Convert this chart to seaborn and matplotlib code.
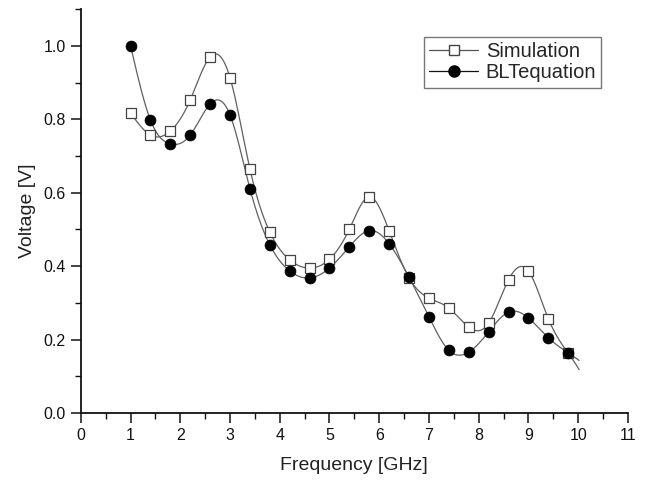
import numpy as np
import pandas as pd
import matplotlib
matplotlib.use("Agg")
import matplotlib.pyplot as plt
from matplotlib.lines import Line2D
from matplotlib.ticker import MultipleLocator
import seaborn as sns

freq = [1.0, 1.4, 1.8, 2.2, 2.6, 3.0, 3.4, 3.8, 4.2, 4.6, 5.0, 5.4,
        5.8, 6.2, 6.6, 7.0, 7.4, 7.8, 8.2, 8.6, 9.0, 9.4, 9.8]
simulation = [0.817, 0.757, 0.768, 0.853, 0.970, 0.913, 0.665, 0.493, 0.417,
              0.395, 0.419, 0.501, 0.589, 0.496, 0.368, 0.313, 0.286, 0.234,
              0.245, 0.363, 0.387, 0.257, 0.163]
blt = [1.000, 0.798, 0.733, 0.757, 0.842, 0.812, 0.611, 0.458, 0.387, 0.368,
       0.395, 0.453, 0.497, 0.461, 0.370, 0.262, 0.171, 0.166, 0.221, 0.275,
       0.259, 0.205, 0.164]
x_ticks = list(range(0, 12))
y_ticks = [0.0, 0.2, 0.4, 0.6, 0.8, 1.0]


def natural_spline(x, y, xs):
    x = np.asarray(x, float)
    y = np.asarray(y, float)
    n = len(x)
    h = np.diff(x)
    A = np.zeros((n, n))
    b = np.zeros(n)
    A[0, 0] = 1
    A[-1, -1] = 1
    for i in range(1, n - 1):
        A[i, i - 1] = h[i - 1]
        A[i, i] = 2 * (h[i - 1] + h[i])
        A[i, i + 1] = h[i]
        b[i] = 6 * ((y[i + 1] - y[i]) / h[i] - (y[i] - y[i - 1]) / h[i - 1])
    M = np.linalg.solve(A, b)
    idx = np.clip(np.searchsorted(x, xs) - 1, 0, n - 2)
    x0, x1 = x[idx], x[idx + 1]
    hh = x1 - x0
    t0 = x1 - xs
    t1 = xs - x0
    return (M[idx] * t0 ** 3 / (6 * hh) + M[idx + 1] * t1 ** 3 / (6 * hh)
            + (y[idx] / hh - M[idx] * hh / 6) * t0
            + (y[idx + 1] / hh - M[idx + 1] * hh / 6) * t1)


sns.set_style("ticks")
plt.rcParams["font.family"] = ["Liberation Sans", "DejaVu Sans"]

fig = plt.figure(figsize=(6.52, 4.82), dpi=100)
ax = fig.add_axes([0.124, 0.143, 0.839, 0.838])

xs = np.linspace(freq[0], 10.02, 600)
curve = pd.DataFrame({
    "f": np.concatenate([xs, xs]),
    "v": np.concatenate([natural_spline(freq, simulation, xs),
                         natural_spline(freq, blt, xs)]),
    "s": ["Simulation"] * len(xs) + ["BLTequation"] * len(xs),
})
sns.lineplot(data=curve, x="f", y="v", units="s", estimator=None,
             color="#606060", linewidth=0.9, ax=ax, legend=False, sort=False)

pts = pd.DataFrame({"f": freq, "sim": simulation, "blt": blt})
sns.scatterplot(data=pts, x="f", y="sim", marker="s", s=55, color="white",
                edgecolor="#444444", linewidth=0.9, ax=ax, zorder=3)
sns.scatterplot(data=pts, x="f", y="blt", marker="o", s=62, color="black",
                edgecolor="black", linewidth=0.5, ax=ax, zorder=4)

ax.set_xlim(0, 11)
ax.set_ylim(0, 1.1)
ax.set_xticks(x_ticks)
ax.set_yticks(y_ticks)
ax.set_yticklabels([f"{v:.1f}" for v in y_ticks])
ax.xaxis.set_minor_locator(MultipleLocator(0.5))
ax.yaxis.set_minor_locator(MultipleLocator(0.1))
ax.tick_params(which="major", length=7, width=1.1, labelsize=11.5,
               colors="#111111", pad=4)
ax.tick_params(which="minor", length=4, width=1.0, colors="#111111")
sns.despine(ax=ax)
for sp in ("left", "bottom"):
    ax.spines[sp].set_linewidth(1.3)
    ax.spines[sp].set_color("#111111")

ax.set_xlabel("Frequency [GHz]", fontsize=14, color="#222222", labelpad=10)
ax.set_ylabel("Voltage [V]", fontsize=14, color="#222222", labelpad=5)

handles = [
    Line2D([0], [0], color="#555555", lw=0.9, marker="s", markersize=7,
           markerfacecolor="white", markeredgecolor="#444444"),
    Line2D([0], [0], color="#111111", lw=0.9, marker="o", markersize=8,
           markerfacecolor="black", markeredgecolor="black"),
]
leg = ax.legend(handles, ["Simulation", "BLTequation"], loc="upper left",
                bbox_to_anchor=(0.628, 0.93), fontsize=14.5, frameon=True,
                fancybox=False, edgecolor="#777777", framealpha=1,
                handlelength=2.4, handletextpad=0.4, borderpad=0.25,
                labelspacing=0.1, borderaxespad=0)
leg.get_frame().set_linewidth(1.0)

fig.savefig("out.png", dpi=100)
